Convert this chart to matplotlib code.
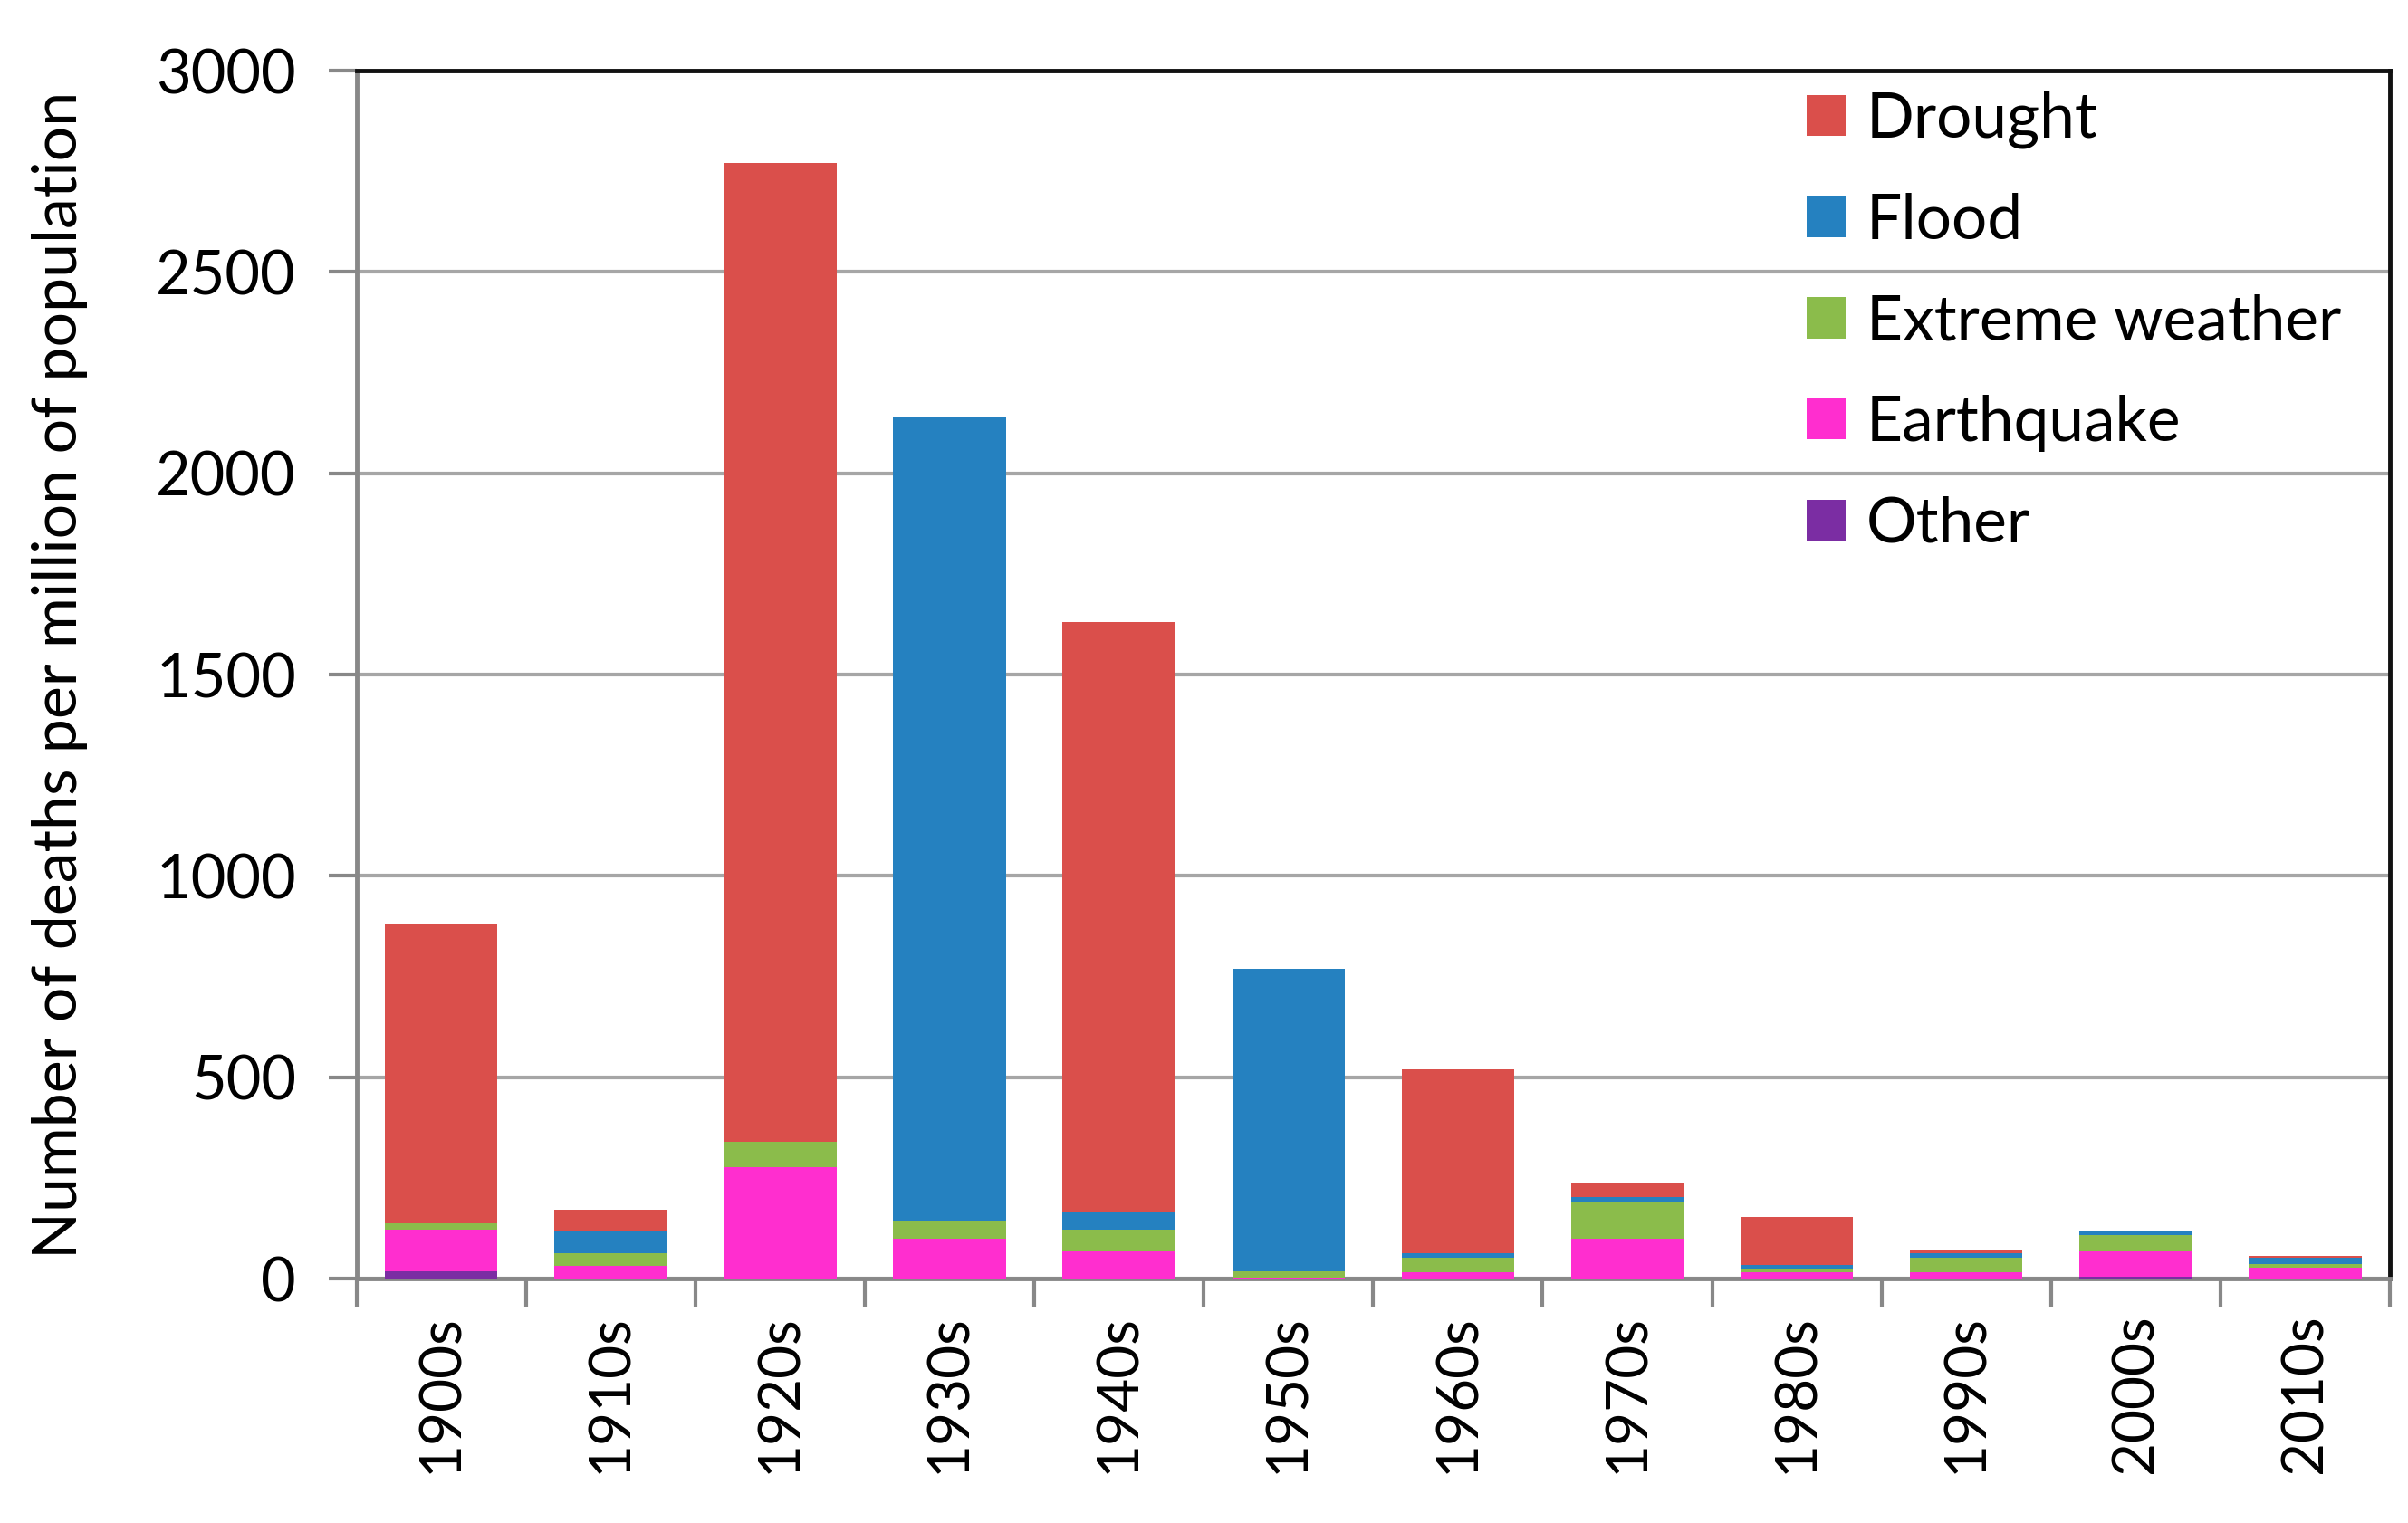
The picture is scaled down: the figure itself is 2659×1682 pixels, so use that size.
import matplotlib
matplotlib.use("Agg")
import matplotlib.pyplot as plt
import numpy as np

decades = ["1900s", "1910s", "1920s", "1930s", "1940s", "1950s",
           "1960s", "1970s", "1980s", "1990s", "2000s", "2010s"]
other      = [18, 0, 0, 0, 0, 0, 0, 0, 0, 0, 4, 0]
earthquake = [104, 32, 277, 100, 68, 3, 15, 100, 15, 15, 64, 26]
extreme    = [15, 32, 62, 44, 54, 14, 36, 89, 7, 36, 39, 10]
flood      = [0, 56, 0, 1996, 43, 753, 11, 13, 12, 11, 10, 16]
drought    = [743, 50, 2431, 0, 1465, 0, 458, 34, 118, 8, 0, 4]

series = [("Other", other, "#7B2DA3"),
          ("Earthquake", earthquake, "#FF2ECF"),
          ("Extreme weather", extreme, "#8BBC4B"),
          ("Flood", flood, "#2581C0"),
          ("Drought", drought, "#DA4F4B")]

plt.rcParams['font.family'] = ['Lato', 'DejaVu Sans']

fig = plt.figure(figsize=(26.59, 16.82), dpi=100)
ax = fig.add_axes([0.148, 0.1605, 0.8445, 0.7931])

x = np.arange(len(decades))
bottom = np.zeros(len(decades))
handles = {}
for name, vals, col in series:
    v = np.array(vals, dtype=float)
    b = ax.bar(x, v, 0.665, bottom=bottom, color=col, label=name, zorder=3)
    handles[name] = b
    bottom += v

ax.set_xlim(-0.5, len(decades) - 0.5)
ax.set_ylim(0, 3000)
ax.set_yticks(np.arange(0, 3001, 500))
ax.yaxis.grid(True, color="#A6A6A6", linewidth=3, zorder=0)
ax.set_axisbelow(True)

ax.set_xticks(x)
ax.set_xticklabels(decades, rotation=90, fontsize=46)
ax.set_xticks(np.arange(-0.5, len(decades), 1.0), minor=True)
ax.tick_params(axis='x', which='major', length=0, pad=28)
ax.tick_params(axis='x', which='minor', length=22, width=3, color="#888888", direction='out')
ax.tick_params(axis='y', length=22, width=3, color="#888888", direction='out', labelsize=48, pad=26)

for s in ['left', 'bottom']:
    ax.spines[s].set_color("#888888")
    ax.spines[s].set_linewidth(3.5)
for s in ['top', 'right']:
    ax.spines[s].set_color("#111111")
    ax.spines[s].set_linewidth(3.5)

ax.set_ylabel("Number of deaths per million of population", fontsize=49, labelpad=54)

order = ["Drought", "Flood", "Extreme weather", "Earthquake", "Other"]
ax.legend([handles[n] for n in order], order, loc='upper left',
          bbox_to_anchor=(0.713, 0.983), frameon=False, fontsize=50,
          handlelength=0.63, handleheight=0.63, handletextpad=0.32,
          labelspacing=0.70, borderpad=0, borderaxespad=0)

fig.savefig("out.png", dpi=100, facecolor="white")
